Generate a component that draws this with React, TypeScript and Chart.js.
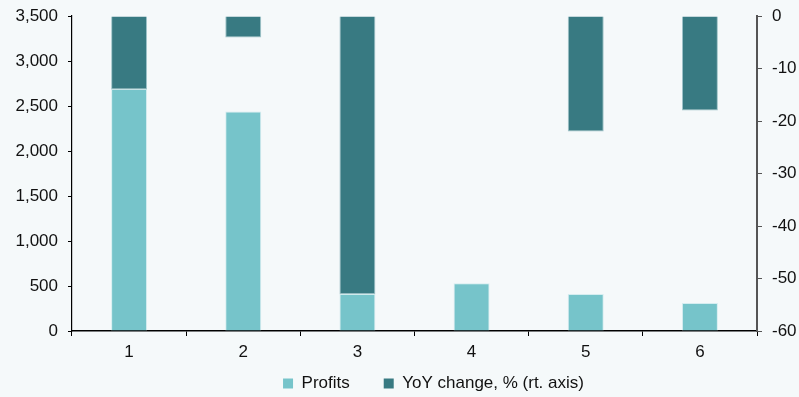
import React, { useEffect, useRef } from "react";
import { Chart, registerables } from "chart.js";

Chart.register(...registerables);

const categories = ["1", "2", "3", "4", "5", "6"];
const profits = [2690, 2440, 410, 530, 410, 310];
const yoyChange = [-14, -4.1, -53, null, -22, -18];
const leftTicks = [0, 500, 1000, 1500, 2000, 2500, 3000, 3500];
const rightTicks = [-60, -50, -40, -30, -20, -10, 0];

const LIGHT = "#76C4CA";
const DARK = "#387A82";
const BG = "#F5F9FA";
const FONT = "'Liberation Sans', Arial, sans-serif";
const FS = 17;

export default function App() {
  const ref = useRef<HTMLCanvasElement | null>(null);

  useEffect(() => {
    if (!ref.current) return;
    const bgPlugin = {
      id: "bg",
      beforeDraw(chart: any) {
        const c = chart.ctx;
        c.save();
        c.fillStyle = BG;
        c.fillRect(0, 0, chart.width, chart.height);
        c.restore();
      },
    };
    const legendPlace = {
      id: "legendPlace",
      afterLayout(chart: any) {
        const lg = chart.legend;
        if (!lg) return;
        lg.top = 341;
        lg.bottom = chart.height;
        lg.left += 34;
        lg.right += 34;
      },
    };
    const chart = new Chart(ref.current, {
      type: "bar",
      data: {
        labels: categories,
        datasets: [
          {
            label: "Profits",
            data: profits,
            backgroundColor: LIGHT,
            borderColor: "rgba(210,235,238,0.9)",
            borderWidth: 1,
            yAxisID: "y",
            order: 2,
            grouped: false,
            categoryPercentage: 1,
            barPercentage: 0.315,
          } as any,
          {
            label: "YoY change, % (rt. axis)",
            data: yoyChange,
            backgroundColor: DARK,
            borderColor: "rgba(150,190,195,0.9)",
            borderWidth: 1,
            yAxisID: "y1",
            order: 1,
            grouped: false,
            categoryPercentage: 1,
            barPercentage: 0.315,
          } as any,
        ],
      },
      options: {
        animation: false,
        responsive: true,
        maintainAspectRatio: false,
        layout: { padding: { top: 16, right: 0, left: 0, bottom: 0 } },
        plugins: {
          tooltip: { enabled: false },
          legend: {
            position: "bottom",
            maxHeight: 36,
            labels: {
              font: { family: FONT, size: FS },
              color: "#111",
              boxWidth: 10,
              boxHeight: 10,
              padding: 34,
              useBorderRadius: false,
              generateLabels: (chart: any) =>
                chart.data.datasets.map((ds: any, i: number) => ({
                  text: ds.label,
                  fillStyle: ds.backgroundColor,
                  strokeStyle: ds.backgroundColor,
                  lineWidth: 0,
                  datasetIndex: i,
                  hidden: false,
                  fontColor: "#111",
                })),
            },
          } as any,
        },
        scales: {
          x: {
            type: "category",
            offset: true,
            grid: {
              offset: true,
              drawOnChartArea: false,
              drawTicks: true,
              tickLength: 5,
              color: "#000",
            },
            border: { color: "#000", width: 1.5 },
            ticks: {
              font: { family: FONT, size: FS },
              color: "#111",
              padding: 6,
            },
            afterFit: (s: any) => {
              s.height = 30;
            },
          },
          y: {
            type: "linear",
            position: "left",
            min: 0,
            max: 3500,
            afterBuildTicks: (s: any) => {
              s.ticks = leftTicks.map((v) => ({ value: v }));
            },
            grid: {
              drawOnChartArea: false,
              tickLength: 4,
              color: "#000",
            },
            border: { color: "#000", width: 1.2 },
            ticks: {
              font: { family: FONT, size: FS },
              color: "#111",
              padding: 10,
              callback: (v: any) => Number(v).toLocaleString("en-US"),
            },
            afterFit: (s: any) => {
              s.width = 72;
              s.paddingTop = 0;
              s.paddingBottom = 0;
            },
          },
          y1: {
            type: "linear",
            position: "right",
            min: -60,
            max: 0,
            afterBuildTicks: (s: any) => {
              s.ticks = rightTicks.map((v) => ({ value: v }));
            },
            grid: {
              drawOnChartArea: false,
              tickLength: 5,
              color: "#555",
            },
            border: { color: "#555", width: 2 },
            ticks: {
              font: { family: FONT, size: FS },
              color: "#111",
              padding: 10,
              crossAlign: "near",
              callback: (v: any) => String(v),
            },
            afterFit: (s: any) => {
              s.width = 42;
              s.paddingTop = 0;
              s.paddingBottom = 0;
            },
          },
        },
      },
      plugins: [bgPlugin, legendPlace],
    });
    return () => chart.destroy();
  }, []);

  return (
    <div
      style={{
        position: "fixed",
        left: 0,
        top: 0,
        width: 799,
        height: 397,
        background: BG,
      }}
    >
      <canvas ref={ref} />
    </div>
  );
}
